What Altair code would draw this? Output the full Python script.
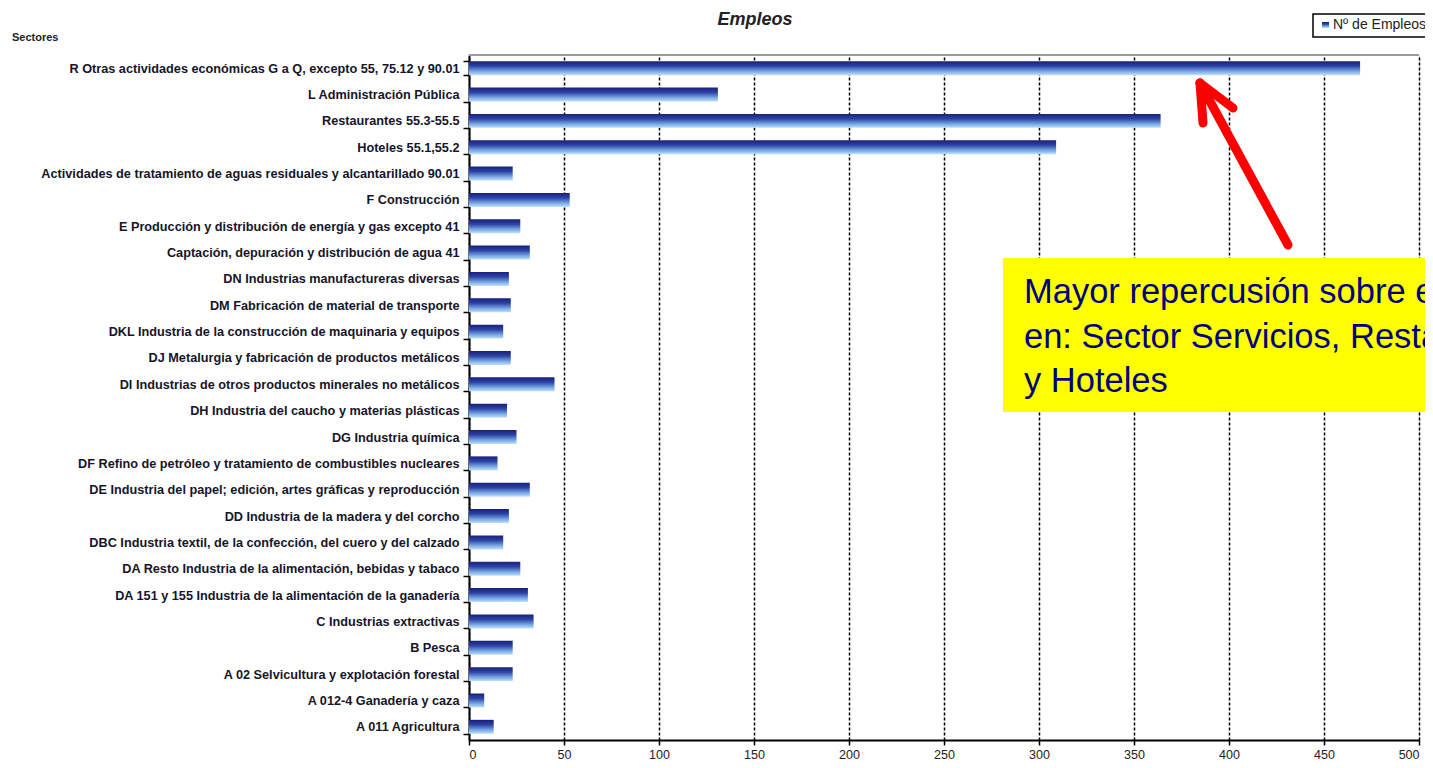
import altair as alt
import pandas as pd

# ---------------- data ----------------
sectores = [
    "R Otras actividades económicas G a Q, excepto 55, 75.12 y 90.01",
    "L Administración Pública",
    "Restaurantes 55.3-55.5",
    "Hoteles 55.1,55.2",
    "Actividades de tratamiento de aguas residuales y alcantarillado 90.01",
    "F Construcción",
    "E Producción y distribución de energía y gas excepto 41",
    "Captación, depuración y distribución de agua 41",
    "DN Industrias manufactureras diversas",
    "DM Fabricación de material de transporte",
    "DKL Industria de la construcción de maquinaria y equipos",
    "DJ Metalurgia y fabricación de productos metálicos",
    "DI Industrias de otros productos minerales no metálicos",
    "DH Industria del caucho y materias plásticas",
    "DG Industria química",
    "DF Refino de petróleo y  tratamiento de combustibles nucleares",
    "DE Industria del papel; edición, artes gráficas y reproducción",
    "DD Industria de la madera y del corcho",
    "DBC Industria textil, de la confección, del cuero y del calzado",
    "DA Resto Industria de la alimentación, bebidas y tabaco",
    "DA 151 y 155 Industria de la alimentación de la ganadería",
    "C Industrias extractivas",
    "B Pesca",
    "A 02 Selvicultura y explotación forestal",
    "A 012-4 Ganadería y caza",
    "A 011 Agricultura",
]
empleos = [469, 131, 364, 309, 23, 53, 27, 32, 21, 22, 18, 22, 45, 20,
           25, 15, 32, 21, 18, 27, 31, 34, 23, 23, 8, 13]
x_ticks = [0, 50, 100, 150, 200, 250, 300, 350, 400, 450, 500]

titulo = "Empleos"
eje_y = "Sectores"
leyenda = "Nº de Empleos"
nota = ["Mayor repercusión sobre el empleo",
        "en: Sector Servicios, Restaurantes",
        "y Hoteles"]

df = pd.DataFrame({"sector": sectores, "empleos": empleos})

W, H = 950, 685
FONT = "Liberation Sans"

grad = alt.Gradient(
    gradient="linear",
    stops=[
        alt.GradientStop(color="#1a1f78", offset=0),
        alt.GradientStop(color="#2b43a5", offset=0.35),
        alt.GradientStop(color="#7eaee6", offset=0.75),
        alt.GradientStop(color="#bfe0fa", offset=1),
    ],
    x1=0, x2=0, y1=0, y2=1,
)

x_scale = alt.Scale(domain=[0, 500], nice=False)

bars = alt.Chart(df).mark_bar(color=grad).encode(
    x=alt.X("empleos:Q", scale=x_scale,
            axis=alt.Axis(values=x_ticks, title=None, grid=True,
                          gridColor="#000", gridDash=[3, 2], gridWidth=1.5,
                          tickSize=5, tickColor="#000", tickWidth=1.5,
                          domainColor="#000", domainWidth=2,
                          labelFont=FONT, labelFontSize=12.5, labelColor="#222",
                          labelPadding=3)),
    y=alt.Y("sector:N", sort=sectores,
            scale=alt.Scale(paddingInner=0.47, paddingOuter=0.235),
            axis=alt.Axis(title=None, tickBand="extent", tickSize=6,
                          tickColor="#000", tickWidth=1.5,
                          domainColor="#000", domainWidth=2,
                          labelFont=FONT, labelFontSize=12.7,
                          labelFontWeight="bold", labelColor="#15152a",
                          labelPadding=4, labelLimit=600)),
)

one = pd.DataFrame({"t": [""]})

top_border = alt.Chart(pd.DataFrame({"a": [0], "b": [500]})).mark_rule(
    color="#9a9a9a", strokeWidth=2
).encode(x=alt.X("a:Q", scale=x_scale, axis=None), x2="b:Q", y=alt.value(0))

title_t = alt.Chart(one).mark_text(
    text=titulo, font=FONT, fontSize=18, fontWeight="bold", fontStyle="italic",
    color="#222", align="center", baseline="middle"
).encode(x=alt.value(286), y=alt.value(-35))

sect_t = alt.Chart(one).mark_text(
    text=eje_y, font=FONT, fontSize=11, fontWeight="bold", color="#222",
    align="left", baseline="middle"
).encode(x=alt.value(-457), y=alt.value(-17))

leg_box = alt.Chart(one).mark_rect(
    fill="white", stroke="#000", strokeWidth=1.5
).encode(x=alt.value(844), x2=alt.value(975), y=alt.value(-41), y2=alt.value(-18))

leg_sw = alt.Chart(one).mark_rect(color=grad).encode(
    x=alt.value(853), x2=alt.value(860), y=alt.value(-33), y2=alt.value(-27))

leg_t = alt.Chart(one).mark_text(
    text=leyenda, font=FONT, fontSize=14, color="#222", align="left",
    baseline="middle"
).encode(x=alt.value(864), y=alt.value(-30))

note_box = alt.Chart(one).mark_rect(fill="#ffff00").encode(
    x=alt.value(534), x2=alt.value(980), y=alt.value(203), y2=alt.value(357))

note_t = alt.Chart(one).mark_text(
    text=nota, font=FONT, fontSize=34.5, lineHeight=44.5, color="#000080",
    align="left", baseline="alphabetic"
).encode(x=alt.value(555), y=alt.value(248))

# arrow: tip, tail and the two arms of the head (pixel offsets in the plot)
arrow_df = pd.DataFrame({
    "x0": [731, 731, 731], "y0": [28, 28, 28],
    "x1": [819, 734, 764], "y1": [190, 68, 53],
})
arrow = alt.Chart(arrow_df).mark_rule(
    color="#ff0000", strokeWidth=9, strokeCap="round"
).encode(
    x=alt.X("x0:Q", scale=alt.Scale(domain=[0, W], range=[0, W]), axis=None),
    x2="x1:Q",
    y=alt.Y("y0:Q", scale=alt.Scale(domain=[0, H], range=[0, H]), axis=None),
    y2="y1:Q",
)

chart = alt.layer(
    bars, top_border, title_t, sect_t, leg_box, leg_sw, leg_t,
    note_box, note_t, arrow
).resolve_scale(x="independent", y="independent").properties(
    width=W, height=H,
    autosize=alt.AutoSizeParams(type="none"),
    padding={"left": 461, "top": 47, "right": 6, "bottom": 20},
).configure_view(stroke="transparent").configure(background="white")

chart.save("out.html", embed_options={"renderer": "svg", "actions": False})
